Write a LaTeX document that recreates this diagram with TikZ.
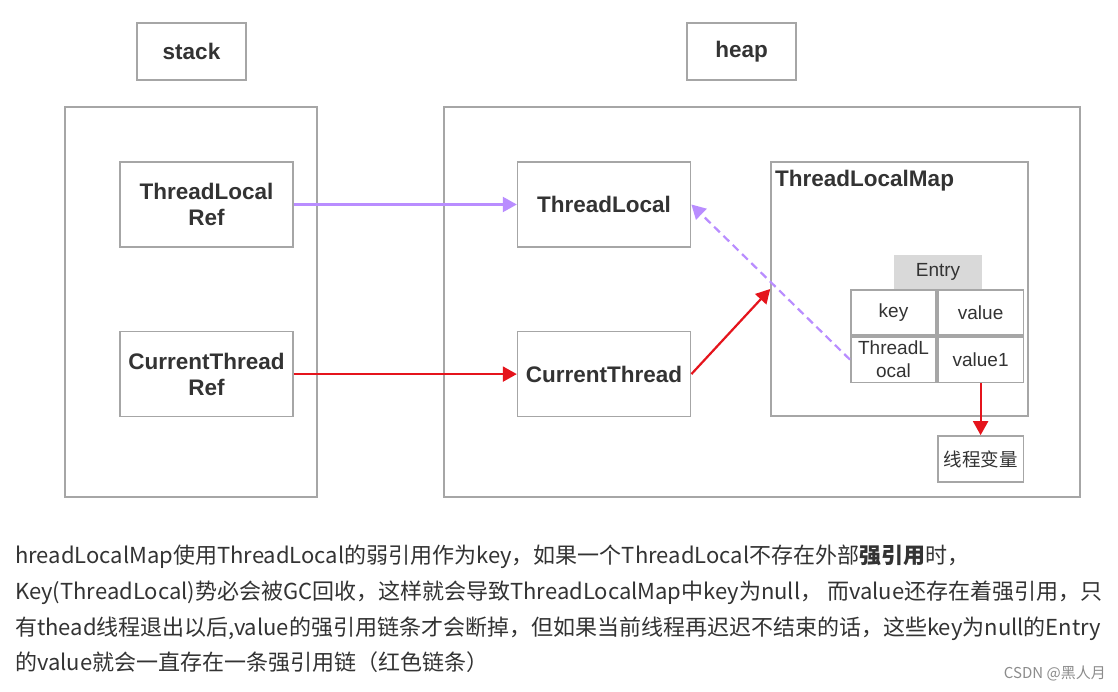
\documentclass[tikz,border=0pt]{standalone}
\usepackage{fontspec}
\setmainfont{Liberation Sans}
\newfontfamily\cjk{Noto Sans CJK SC}
\usepackage{tikz}
\usetikzlibrary{arrows.meta,positioning}
\definecolor{framegray}{HTML}{A6A6A6}
\definecolor{labeltext}{HTML}{333333}
\definecolor{weakpurple}{HTML}{B98DFF}
\definecolor{strongred}{HTML}{E5141C}
\definecolor{entrygray}{HTML}{D9D9D9}

\begin{document}
\begin{tikzpicture}[
    x=1pt, y=-1pt,
    font=\fontsize{22.5}{26}\selectfont\bfseries,
    text=labeltext,
    >={Triangle[length=14pt,width=15pt]},
    frame/.style={draw=framegray, line width=1.6pt},
    box/.style={frame, minimum width=173pt, minimum height=85pt, align=center, inner sep=2pt},
    cell/.style={frame, minimum width=85.5pt, minimum height=45.5pt, inner sep=1pt, align=center, font=\fontsize{19}{23}\selectfont},
    strong/.style={->, draw=strongred, line width=2.2pt},
    weak/.style={->, draw=weakpurple, line width=2.2pt},
    para/.style={anchor=base west, inner sep=0pt, font=\cjk\fontsize{22}{24}\selectfont}
]
\useasboundingbox[fill=white] (0,0) rectangle (1118,692);

% memory areas
\node[frame, minimum width=252pt, minimum height=390pt] (stackarea) at (191,302) {};
\node[frame, minimum width=636pt, minimum height=390pt] (heaparea) at (762,302) {};
\node[frame, minimum width=109pt, minimum height=57pt] (stacklbl) at (191.5,51.5) {stack};
\node[frame, minimum width=109pt, minimum height=57pt] (heaplbl) at (741.5,51.5) {heap};

% stack refs and heap objects
\node[box] (tlref) at (206.5,204.5) {ThreadLocal\\Ref};
\node[box, below=83pt of tlref] (ctref) {CurrentThread\\Ref};
\node[box, right=223pt of tlref] (tl) {ThreadLocal};
\node[box, right=223pt of ctref] (ct) {CurrentThread};

% map with its entry
\node[frame, minimum width=257pt, minimum height=254pt] (map) at (899.5,289) {};
\node[anchor=base west, inner sep=0pt] (maptitle) at (775,187) {ThreadLocalMap};
\node[cell] (keyhead) at (893.5,312.5) {key};
\node[cell, right=0pt of keyhead] (valhead) {value};
\node[cell, below=0pt of keyhead] (keycell) {ThreadL\\ocal};
\node[cell, below=0pt of valhead] (valcell) {value1};
\node[cell, draw=none, fill=entrygray, minimum width=88pt, minimum height=34pt] (entry) at (938,272) {Entry};
\node[cell, below=52pt of valcell, minimum height=46pt, font=\cjk\fontsize{18.5}{20}\selectfont] (var) {线程变量};

\draw[weak] (tlref) -- (tl);
\draw[strong] (ctref) -- (ct);
\draw[strong] (ct.east) -- (map.west);
\draw[weak, dash pattern=on 8pt off 5pt] (keycell.west) -- (tl.east);
\draw[strong] (valcell) -- (var);

% explanation
\node[para] (line1) at (15,563) {hreadLocalMap使用ThreadLocal的弱引用作为key，如果一个ThreadLocal不存在外部\textbf{强引用}时，};
\node[para] (line2) at (15,599) {Key(ThreadLocal)势必会被GC回收，这样就会导致ThreadLocalMap中key为null， 而value还存在着强引用，只};
\node[para] (line3) at (15,635) {有thead线程退出以后,value的强引用链条才会断掉，但如果当前线程再迟迟不结束的话，这些key为null的Entry};
\node[para] (line4) at (15,670) {的value就会一直存在一条强引用链（红色链条）};
\node[anchor=base east, inner sep=0pt, text=black!45, font=\cjk\fontsize{15}{15}\selectfont] (mark) at (1106,678) {CSDN @黑人月};
\end{tikzpicture}
\end{document}
